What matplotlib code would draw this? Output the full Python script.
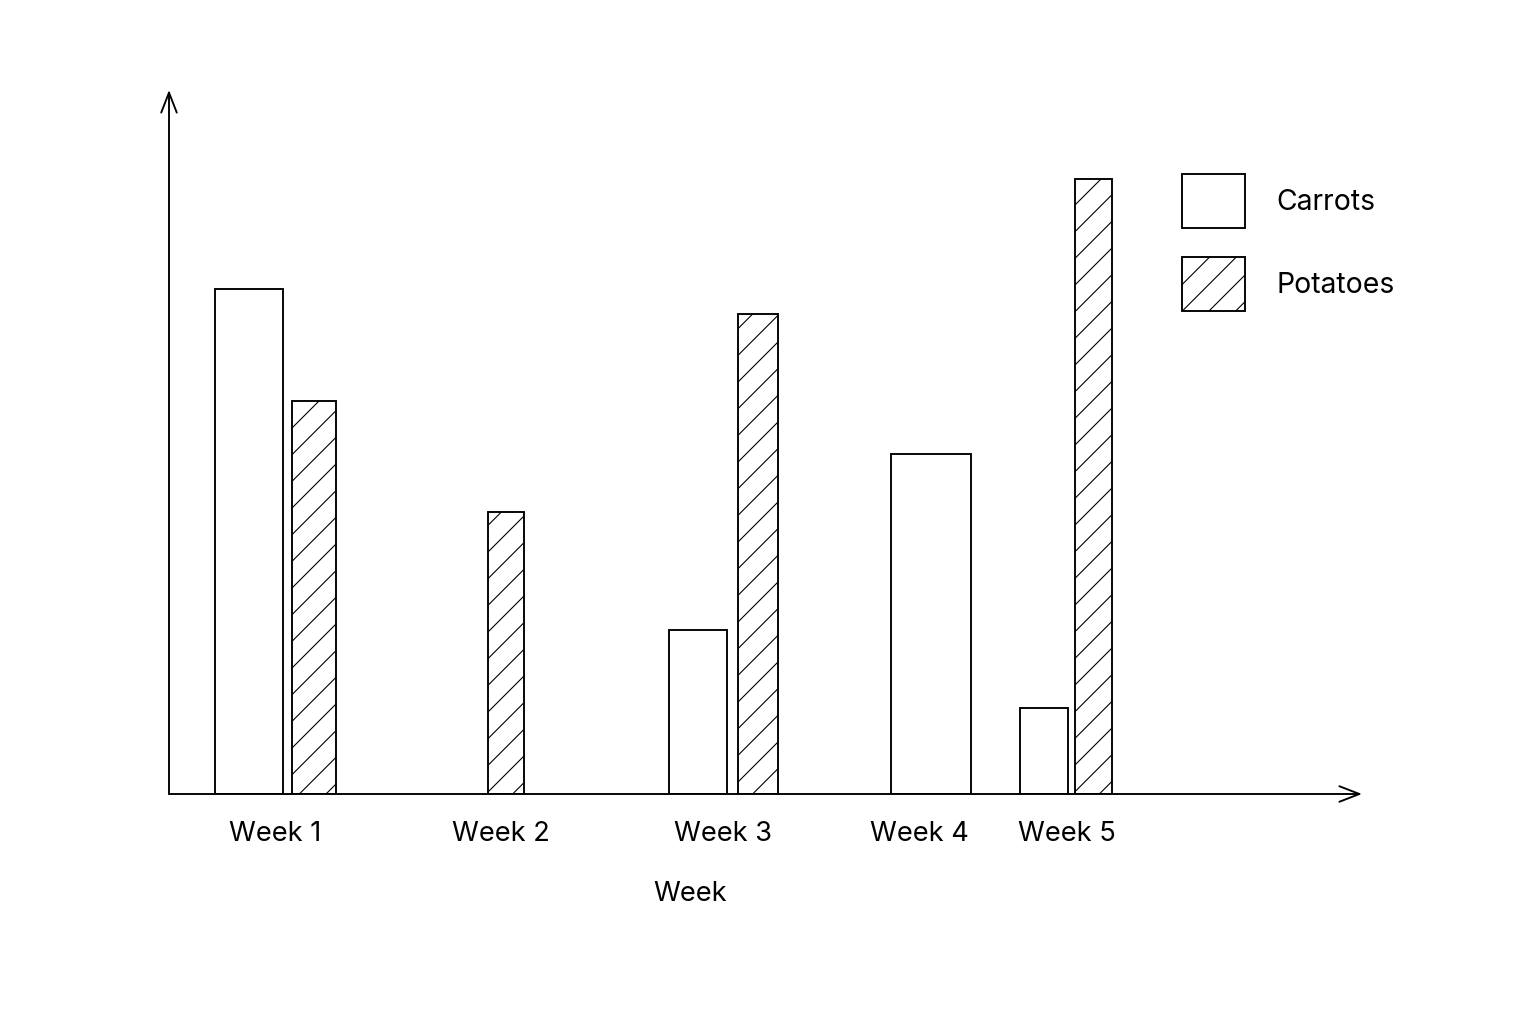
import matplotlib
matplotlib.use("Agg")
import matplotlib.pyplot as plt

# data (arbitrary units)
weeks = ["Week 1", "Week 2", "Week 3", "Week 4", "Week 5"]
carrots = [50.5, 0.0, 16.4, 34.0, 8.6]
potatoes = [39.3, 28.2, 48.0, 0.0, 61.5]

# layout: the sketch places bars irregularly, so keep slot positions here
tick_x = [1.06, 3.32, 5.54, 7.50, 8.98]
carrot_x = [0.80, 3.00, 5.29, 7.62, 8.75]
carrot_w = [0.68, 0.50, 0.58, 0.80, 0.48]
potato_x = [1.45, 3.37, 5.89, 7.90, 9.245]
potato_w = [0.44, 0.36, 0.40, 0.40, 0.37]

plt.rcParams["font.family"] = ["Inter", "DejaVu Sans"]
plt.rcParams["hatch.linewidth"] = 1.0
FS = 24.5
FS_LEG = 25.5

fig = plt.figure(figsize=(19.2, 12.8), dpi=80)
W, H = 1536, 1024
ax = fig.add_axes([169 / W, (H - 794) / H, (1362 - 169) / W, (794 - 90) / H])


def keep(vals, xs, ws):
    idx = [i for i, v in enumerate(vals) if v > 0]
    return [xs[i] for i in idx], [vals[i] for i in idx], [ws[i] for i in idx]


cx, cv, cw = keep(carrots, carrot_x, carrot_w)
px, pv, pw = keep(potatoes, potato_x, potato_w)
b1 = ax.bar(cx, cv, width=cw, facecolor="white", edgecolor="black",
            linewidth=1.7, label="Carrots", zorder=2)
b2 = ax.bar(px, pv, width=pw, facecolor="white", edgecolor="black",
            linewidth=1.7, hatch="/", label="Potatoes", zorder=2)

ax.set_xlim(0, 11.93)
ax.set_ylim(0, 70.4)
for s in ax.spines.values():
    s.set_visible(False)
ax.set_yticks([])
ax.set_xticks(tick_x, weeks, fontsize=FS)
ax.tick_params(axis="x", length=0, pad=24)
ax.set_xlabel("Week", fontsize=FS)
ax.xaxis.set_label_coords(0.437, -0.123)

# arrow axes
arrow = dict(arrowstyle="->,head_length=0.9,head_width=0.35", lw=1.7,
             color="black", shrinkA=0, shrinkB=0, mutation_scale=20)
ax.annotate("", xy=(1.0, 0), xytext=(0, 0), xycoords="axes fraction",
            arrowprops=arrow, zorder=3)
ax.annotate("", xy=(0, 1.0), xytext=(0, 0), xycoords="axes fraction",
            arrowprops=arrow, zorder=3)

ax.legend(handles=[b1, b2], loc="upper left", frameon=False,
          bbox_to_anchor=(1182 / W, 1 - 174 / H), bbox_transform=fig.transFigure,
          fontsize=FS_LEG, handlelength=2.22, handleheight=2.58,
          handletextpad=1.1, labelspacing=1.0, borderpad=0, borderaxespad=0)

fig.savefig("out.png", dpi=80, facecolor="white")
